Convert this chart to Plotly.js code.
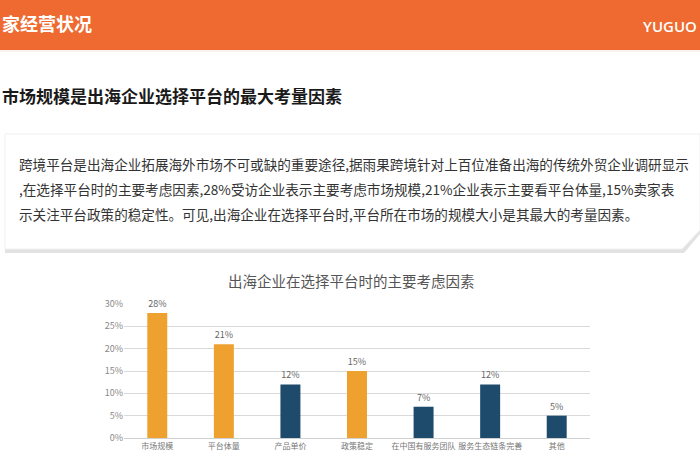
<!DOCTYPE html>
<html><head><meta charset="utf-8">
<script src="https://cdn.plot.ly/plotly-3.0.1.min.js"></script>
<style>html,body{margin:0;padding:0;background:#fff}#c{width:700px;height:470px}</style>
</head><body><div id="c"></div>
<script>
const categories = ['市场规模','平台体量','产品单价','政策稳定','在中国有服务团队','服务生态链条完善','其他'];
const values = [28, 21, 12, 15, 7, 12, 5];
const barColors = ['#EFA12F','#EFA12F','#1E4B6B','#EFA12F','#1E4B6B','#1E4B6B','#1E4B6B'];
const yTickVals = [0,5,10,15,20,25,30];
const yTickText = ['0%','5%','10%','15%','20%','25%','30%'];
const headerTitle = '家经营状况';
const logoText = 'YUGUO';
const sectionTitle = '市场规模是出海企业选择平台的最大考量因素';
const bodyLines = [
 '跨境平台是出海企业拓展海外市场不可或缺的重要途径,据雨果跨境针对上百位准备出海的传统外贸企业调研显示',
 ',在选择平台时的主要考虑因素,28%受访企业表示主要考虑市场规模,21%企业表示主要看平台体量,15%卖家表',
 '示关注平台政策的稳定性。可见,出海企业在选择平台时,平台所在市场的规模大小是其最大的考量因素。'
];
const chartTitle = '出海企业在选择平台时的主要考虑因素';

const W=700,H=470;
const px=x=>x/W, py=y=>1-y/H;
const FONT='"Noto Sans CJK SC","Noto Sans",sans-serif';

const trace={type:'bar',x:categories,y:values,marker:{color:barColors},width:0.3,
 text:values.map(v=>v+'%'),textposition:'outside',cliponaxis:false,
 textfont:{size:9,color:'#666',family:FONT},hoverinfo:'skip'};

const shapes=[
 {type:'rect',xref:'paper',yref:'paper',x0:0,x1:1,y0:py(50),y1:1,fillcolor:'#EE6A30',line:{width:0},layer:'below'},
 {type:'line',xref:'paper',yref:'paper',x0:0,x1:1,y0:py(51),y1:py(51),line:{color:'#F3E6DD',width:1},layer:'below'},
 {type:'path',xref:'paper',yref:'paper',layer:'below',fillcolor:'#E2E2E2',line:{width:0},
  path:`M ${px(5)} ${py(140)} L ${px(700)} ${py(140)} L ${px(700)} ${py(234)} L ${px(684)} ${py(253)} L ${px(5)} ${py(253)} Z`},
 {type:'path',xref:'paper',yref:'paper',layer:'below',fillcolor:'#FFFFFF',line:{color:'#F0F0F0',width:1},
  path:`M ${px(5)} ${py(134)} L ${px(700)} ${py(134)} L ${px(700)} ${py(230)} L ${px(682)} ${py(249)} L ${px(5)} ${py(249)} Z`}
];

const ann=[
 {text:'<b>'+headerTitle+'</b>',x:px(0),y:py(23),xanchor:'left',yanchor:'middle',font:{size:18,color:'#fff',family:FONT}},
 {text:logoText,x:px(699),y:py(26),xanchor:'right',yanchor:'middle',font:{size:15,color:'#fff',family:'"Open Sans",sans-serif',weight:600}},
 {text:'<b>'+sectionTitle+'</b>',x:px(0),y:py(95),xanchor:'left',yanchor:'middle',font:{size:17,color:'#1a1a1a',family:FONT}},
 {text:chartTitle,x:px(351),y:py(280),xanchor:'center',yanchor:'middle',font:{size:14.5,color:'#555',family:FONT}}
];
const lineY=[164,189,214];
bodyLines.forEach((t,i)=>ann.push({text:t,x:px(17),y:py(lineY[i]),xanchor:'left',yanchor:'middle',font:{size:13.6,color:'#333',family:FONT}}));
ann.forEach(a=>{a.xref='paper';a.yref='paper';a.showarrow=false;});

const layout={width:W,height:H,margin:{l:0,r:0,t:0,b:0},paper_bgcolor:'#fff',plot_bgcolor:'rgba(0,0,0,0)',
 showlegend:false,shapes:shapes,annotations:ann,bargap:0.7,
 xaxis:{domain:[px(124),px(590)],showgrid:false,showline:true,linecolor:'#D0D0D0',ticks:'',tickangle:0,automargin:false,
   tickfont:{size:8,color:'#777',family:FONT},fixedrange:true},
 yaxis:{domain:[py(438),py(304)],range:[0,30],tickvals:yTickVals,ticktext:yTickText,showgrid:true,gridcolor:'#D9D9D9',
   zeroline:false,showline:false,ticks:'',ticklen:0,tickfont:{size:9,color:'#888',family:FONT},fixedrange:true}
};
Plotly.newPlot('c',[trace],layout,{displayModeBar:false,staticPlot:true});
</script></body></html>
